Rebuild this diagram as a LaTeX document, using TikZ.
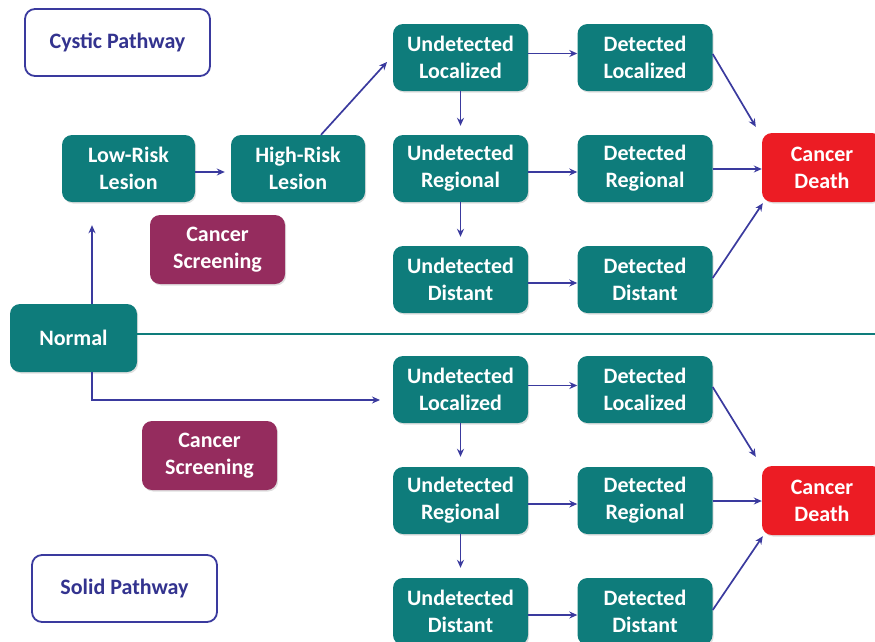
\documentclass[tikz,border=0pt]{standalone}
\usepackage{fontspec}
\setmainfont{Carlito}
\usetikzlibrary{arrows.meta,shadows}
\definecolor{tealbox}{HTML}{0E7C7B}
\definecolor{screen}{HTML}{952C5E}
\definecolor{deathred}{HTML}{EC1C24}
\definecolor{arrowblue}{HTML}{3A3A9E}
\definecolor{pathblue}{HTML}{33338F}
\begin{document}
\begin{tikzpicture}[x=1pt,y=-1pt,
  base/.style={rectangle, rounded corners=10pt, align=center, inner sep=0pt,
    font=\bfseries\fontsize{22}{27}\selectfont},
  shad/.style={drop shadow={opacity=0.25, shadow xshift=1.2pt, shadow yshift=-1.5pt}},
  statebox/.style={base, shad, fill=tealbox, text=white, minimum width=135pt, minimum height=67pt},
  screenbox/.style={base, shad, fill=screen, text=white, minimum width=135pt, minimum height=69pt},
  deathbox/.style={base, shad, fill=deathred, text=white, minimum width=120pt, minimum height=69pt},
  pathbox/.style={base, draw=arrowblue, line width=1.8pt, fill=white, text=pathblue, minimum width=185pt, minimum height=67pt},
  arr/.style={draw=arrowblue, line width=1.7pt, -{Stealth[length=8pt,width=7pt]}},
  divider/.style={draw=tealbox, line width=2pt}
]
\useasboundingbox (0,0) rectangle (875,641);

% labels
\node[pathbox] (cys) at (117.5,42.5) {Cystic Pathway};
\node[pathbox] (sol) at (124.5,588.5) {Solid Pathway};

% left side
\node[statebox, minimum width=133pt] (low) at (128.5,168.5) {Low-Risk\\Lesion};
\node[statebox, minimum width=134pt] (high) at (298,168.5) {High-Risk\\Lesion};
\node[screenbox] (scr1) at (217.5,249.5) {Cancer\\Screening};
\node[statebox, minimum width=127pt, minimum height=68pt] (normal) at (73.5,338) {Normal};
\node[screenbox] (scr2) at (209.5,455.5) {Cancer\\Screening};

% top grid
\node[statebox] (ul1) at (460.5,57.5) {Undetected\\Localized};
\node[statebox] (dl1) at (645,57.5) {Detected\\Localized};
\node[statebox] (ur1) at (460.5,168.5) {Undetected\\Regional};
\node[statebox] (dr1) at (645,168.5) {Detected\\Regional};
\node[statebox] (ud1) at (460.5,279.5) {Undetected\\Distant};
\node[statebox] (dd1) at (645,279.5) {Detected\\Distant};
\node[deathbox] (cd1) at (822,167.5) {Cancer\\Death};

% bottom grid
\node[statebox] (ul2) at (460.5,389.5) {Undetected\\Localized};
\node[statebox] (dl2) at (645,389.5) {Detected\\Localized};
\node[statebox] (ur2) at (460.5,500.5) {Undetected\\Regional};
\node[statebox] (dr2) at (645,500.5) {Detected\\Regional};
\node[statebox] (ud2) at (460.5,611.5) {Undetected\\Distant};
\node[statebox] (dd2) at (645,611.5) {Detected\\Distant};
\node[deathbox] (cd2) at (822,500.5) {Cancer\\Death};

% divider
\coordinate (lineend) at (875,334);
\draw[divider] (normal.east |- lineend) -- (lineend);

% free ends
\coordinate (ha) at (387,62);
\coordinate (n2) at (380,400);

% connectors, left
\draw[arr] ([xshift=18.5pt]normal.north) -- ([xshift=18.5pt]normal.north |- low.south) [shorten >=23pt];
\draw[arr, shorten >=6pt] ([yshift=-3.5pt]low.east) -- ([yshift=-3.5pt]high.west);
\draw[arr] ([xshift=23pt]high.north) -- (ha);
\draw[arr] ([xshift=18.5pt]normal.south) |- (n2);

% top grid connectors
\draw[arr] ([yshift=4pt]ul1.east) -- ([yshift=4pt]dl1.west);
\draw[arr] ([yshift=-3.5pt]ur1.east) -- ([yshift=-3.5pt]dr1.west);
\draw[arr] ([yshift=-3.5pt]ud1.east) -- ([yshift=-3.5pt]dd1.west);
\draw[arr, shorten >=9pt] (ul1.south) -- (ur1.north);
\draw[arr, shorten >=9pt] (ur1.south) -- (ud1.north);
\draw[arr] ([yshift=3.5pt]dl1.east) -- ([xshift=-6pt,yshift=6pt]cd1.north west);
\draw[arr] ([yshift=-0.5pt]dr1.east) -- ([yshift=-0.5pt]dr1.east -| cd1.west);
\draw[arr] ([yshift=1.5pt]dd1.east) -- ([xshift=1pt,yshift=-1pt]cd1.south west);

% bottom grid connectors
\draw[arr] ([yshift=4pt]ul2.east) -- ([yshift=4pt]dl2.west);
\draw[arr] ([yshift=-3.5pt]ur2.east) -- ([yshift=-3.5pt]dr2.west);
\draw[arr] ([yshift=-3.5pt]ud2.east) -- ([yshift=-3.5pt]dd2.west);
\draw[arr, shorten >=10pt] (ul2.south) -- (ur2.north);
\draw[arr, shorten >=10pt] (ur2.south) -- (ud2.north);
\draw[arr] ([yshift=2.5pt]dl2.east) -- ([xshift=-6pt,yshift=9pt]cd2.north west);
\draw[arr] ([yshift=-0.5pt]dr2.east) -- ([yshift=-0.5pt]dr2.east -| cd2.west);
\draw[arr] ([yshift=1.5pt]dd2.east) -- ([xshift=1pt,yshift=-1pt]cd2.south west);
\end{tikzpicture}
\end{document}
